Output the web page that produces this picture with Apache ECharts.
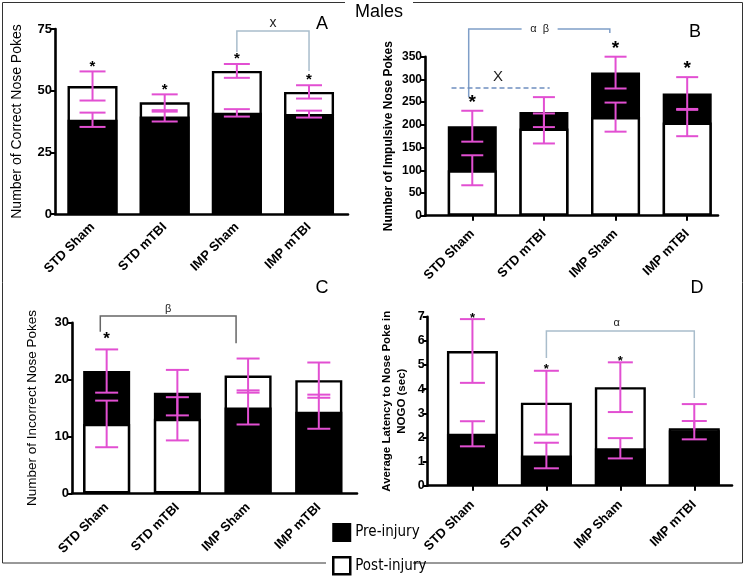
<!DOCTYPE html>
<html>
<head>
<meta charset="utf-8">
<script src="https://cdn.jsdelivr.net/npm/echarts@6/dist/echarts.min.js"></script>
<style>
html,body{margin:0;padding:0;background:#fff;}
#chart{width:747px;height:579px;}
</style>
</head>
<body>
<div id="chart"></div>
<script>
// ---------- DATA ----------
const categories = ['STD Sham', 'STD mTBI', 'IMP Sham', 'IMP mTBI'];

// Panel A: Number of Correct Nose Pokes
const preA = [38.2, 39.5, 41.0, 40.5];
const preErrA = [2.9, 2.0, 1.5, 1.4];
const postA = [51.9, 45.3, 58.0, 49.5];
const postErrA = [5.9, 3.2, 2.8, 2.7];
const starsA = [1, 1, 1, 1];

// Panel B: Number of Impulsive Nose Pokes
const preB = [197, 228, 315, 269];
const preErrB = [34, 33, 35, 36];
const postB = [100, 192, 217, 205];
const postErrB = [33, 33, 32, 30];
const starsB = [1, 0, 1, 1];

// Panel C: Number of Incorrect Nose Pokes
const preC = [21.5, 17.7, 15.1, 14.35];
const preErrC = [3.8, 4.0, 3.0, 3.0];
const postC = [12.2, 13.1, 20.7, 19.9];
const postErrC = [4.1, 3.8, 3.0, 3.1];
const starsC = [1, 0, 0, 0];

// Panel D: Average Latency to Nose Poke in NOGO (sec)
const preD = [2.15, 1.25, 1.55, 2.3];
const preErrD = [0.52, 0.53, 0.42, 0.38];
const postD = [5.58, 3.44, 4.08, 2.38];
const postErrD = [1.32, 1.32, 1.03, 1.0];
const starsD = [1, 1, 1, 0];

const yTicksA = [0, 25, 50, 75];
const yTicksB = [0, 50, 100, 150, 200, 250, 300, 350];
const yTicksC = [0, 10, 20, 30];
const yTicksD = [0, 1, 2, 3, 4, 5, 6, 7];

// ---------- LAYOUT / STYLE ----------
const FONT = '"Liberation Sans", Arial, Helvetica, sans-serif';
const NARROW = '"Liberation Sans Narrow", "Arial Narrow", "DejaVu Sans Condensed", sans-serif';
const PINK = '#e24fd2';

const panels = [
  { pre: preA, preErr: preErrA, post: postA, postErr: postErrA, stars: starsA, ticks: yTicksA,
    grid: { left: 55, top: 29, width: 293, height: 185 }, xMin: -0.52, xMax: 3.54,
    barW: 50, capW: 26, tickFont: 13, catFont: 13, catMargin: 11, xTicks: false,
    name: 'Number of Correct Nose Pokes', nameFont: 14, nameBold: 'normal', nameGap: 29,
    starFont: 15, starDist: 5,
    brackets: [{ d: [2, 3, 74.2, 65.7, 58], color: '#a9bdcc' }],
    texts: [{ d: [2.5, 77.3], t: 'x', size: 14, color: '#222' }] },
  { pre: preB, preErr: preErrB, post: postB, postErr: postErrB, stars: starsB, ticks: yTicksB,
    grid: { left: 425, top: 56.7, width: 293, height: 159 }, xMin: -0.66, xMax: 3.43,
    barW: 49, capW: 22, tickFont: 12, catFont: 13, catMargin: 16, xTicks: true,
    name: 'Number of Impulsive Nose Pokes', nameFont: 12, nameBold: 'bold', nameGap: 29,
    starFont: 19, starDist: 8,
    brackets: [{ d: [-0.05, 1.92, 411, 261, 402], color: '#7f9ec8' }],
    dashed: [{ d: [-0.29, 1.08, 281], color: '#6f8fc0' }],
    texts: [{ d: [0.94, 411], t: 'α  β', size: 11, color: '#222', bg: true },
            { d: [0.36, 305], t: 'X', size: 15, color: '#222' }] },
  { pre: preC, preErr: preErrC, post: postC, postErr: postErrC, stars: starsC, ticks: yTicksC,
    grid: { left: 72, top: 322.7, width: 285, height: 170.6 }, xMin: -0.49, xMax: 3.54,
    barW: 47, capW: 23, tickFont: 13, catFont: 13, catMargin: 12, xTicks: false,
    name: 'Number of Incorrect Nose Pokes', nameFont: 13.5, nameBold: 'normal', nameGap: 31,
    starFont: 17, starDist: 10,
    brackets: [{ d: [-0.09, 1.83, 31.2, 28.4, 26.4], color: '#666' }],
    texts: [{ d: [0.87, 32.4], t: 'β', size: 11, color: '#222' }] },
  { pre: preD, preErr: preErrD, post: postD, postErr: postErrD, stars: starsD, ticks: yTicksD,
    grid: { left: 427.7, top: 316.7, width: 304.3, height: 169 }, xMin: -0.605, xMax: 3.51,
    barW: 51, capW: 25, tickFont: 12.5, catFont: 13, catMargin: 17, xTicks: true,
    name: 'Average Latency to Nose Poke in\nNOGO (sec)', nameFont: 11.5, nameBold: 'bold', nameGap: 19,
    starFont: 13, starDist: 1,
    brackets: [{ d: [1, 3, 6.41, 5.29, 3.63], color: '#a9bdcc' }],
    texts: [{ d: [1.95, 6.75], t: 'α', size: 11, color: '#222' }] }
];

// ---------- BUILD ----------
const grids = [], xAxes = [], yAxes = [], series = [];

function errRender(capW) {
  return function (params, api) {
    const x = api.value(0), m = api.value(1), e = api.value(2);
    const top = api.coord([x, m + e]);
    const bot = api.coord([x, m - e]);
    const h = capW / 2;
    const st = { stroke: PINK, lineWidth: 2 };
    return {
      type: 'group',
      children: [
        { type: 'line', shape: { x1: top[0], y1: top[1], x2: bot[0], y2: bot[1] }, style: st },
        { type: 'line', shape: { x1: top[0] - h, y1: top[1], x2: top[0] + h, y2: top[1] }, style: st },
        { type: 'line', shape: { x1: bot[0] - h, y1: bot[1], x2: bot[0] + h, y2: bot[1] }, style: st }
      ]
    };
  };
}

panels.forEach(function (p, k) {
  grids.push(Object.assign({ containLabel: false }, p.grid));
  const yMax = p.ticks[p.ticks.length - 1];
  const yInt = p.ticks[1] - p.ticks[0];
  xAxes.push({
    type: 'value', gridIndex: k, min: p.xMin, max: p.xMax,
    axisLine: { show: true, onZero: false, lineStyle: { color: '#000', width: 2.6 } },
    axisTick: { show: p.xTicks, customValues: [0, 1, 2, 3], length: 5, lineStyle: { color: '#000', width: 2 } },
    splitLine: { show: false },
    axisLabel: {
      customValues: [0, 1, 2, 3], rotate: 45, margin: p.catMargin,
      formatter: function (v) { return categories[Math.round(v)]; },
      fontFamily: FONT, fontWeight: 'bold', fontSize: p.catFont, color: '#000'
    }
  });
  yAxes.push({
    type: 'value', gridIndex: k, min: 0, max: yMax, interval: yInt,
    name: p.name, nameLocation: 'middle', nameGap: p.nameGap,
    nameTextStyle: { fontFamily: FONT, fontSize: p.nameFont, fontWeight: p.nameBold, color: '#000', lineHeight: p.nameFont + 3 },
    axisLine: { show: true, onZero: false, lineStyle: { color: '#000', width: 2.6 } },
    axisTick: { show: true, length: 5, lineStyle: { color: '#000', width: 2 } },
    splitLine: { show: false },
    axisLabel: { fontFamily: FONT, fontWeight: 'bold', fontSize: p.tickFont, color: '#000', margin: 3 }
  });

  const preBack = [], postBack = [], preFront = [], postFront = [], backErr = [], frontErr = [], starPts = [];
  categories.forEach(function (c, i) {
    if (p.pre[i] >= p.post[i]) {
      preBack.push([i, p.pre[i]]); postFront.push([i, p.post[i]]);
      backErr.push([i, p.pre[i], p.preErr[i]]); frontErr.push([i, p.post[i], p.postErr[i]]);
    } else {
      postBack.push([i, p.post[i]]); preFront.push([i, p.pre[i]]);
      backErr.push([i, p.post[i], p.postErr[i]]); frontErr.push([i, p.pre[i], p.preErr[i]]);
    }
    if (p.stars[i]) starPts.push([i, Math.max(p.pre[i] + p.preErr[i], p.post[i] + p.postErr[i])]);
  });

  function bar(name, data, fill, z) {
    return {
      name: name, type: 'bar', xAxisIndex: k, yAxisIndex: k, data: data,
      barWidth: p.barW, barGap: '-100%', z: z, animation: false,
      itemStyle: { color: fill, borderColor: '#000', borderWidth: 2.4 },
      emphasis: { disabled: true }
    };
  }
  series.push(bar('Pre-injury', preBack, '#000', 2));
  series.push(bar('Post-injury', postBack, '#fff', 2));
  series.push({ type: 'custom', name: 'errBack' + k, xAxisIndex: k, yAxisIndex: k, z: 3,
    renderItem: errRender(p.capW), data: backErr, encode: { x: 0, y: 1 }, animation: false, silent: true });
  series.push(bar('Pre-injury', preFront, '#000', 4));
  series.push(bar('Post-injury', postFront, '#fff', 4));
  series.push({ type: 'custom', name: 'errFront' + k, xAxisIndex: k, yAxisIndex: k, z: 5,
    renderItem: errRender(p.capW), data: frontErr, encode: { x: 0, y: 1 }, animation: false, silent: true });

  // significance stars
  series.push({ type: 'custom', name: 'stars' + k, xAxisIndex: k, yAxisIndex: k, z: 6, clip: false,
    data: starPts, encode: { x: 0, y: 1 }, animation: false, silent: true,
    renderItem: function (params, api) {
      const pt = api.coord([api.value(0), api.value(1)]);
      return { type: 'text', x: pt[0], y: pt[1] - p.starDist,
        style: { text: '*', fill: '#000', font: 'bold ' + p.starFont + 'px ' + FONT, textAlign: 'center', textVerticalAlign: 'middle' } };
    } });

  // brackets
  series.push({ type: 'custom', name: 'brackets' + k, xAxisIndex: k, yAxisIndex: k, z: 6, clip: false,
    data: p.brackets.map(function (b) { return b.d; }), encode: { x: [0, 1], y: [2, 3, 4] }, animation: false, silent: true,
    renderItem: function (params, api) {
      const b = p.brackets[params.dataIndex];
      const x1 = api.value(0), x2 = api.value(1), t = api.value(2), l = api.value(3), r = api.value(4);
      const pts = [api.coord([x1, l]), api.coord([x1, t]), api.coord([x2, t]), api.coord([x2, r])];
      return { type: 'polyline', shape: { points: pts }, style: { stroke: b.color, lineWidth: 1.5, fill: null } };
    } });
  if (p.dashed) {
    series.push({ type: 'custom', name: 'dashed' + k, xAxisIndex: k, yAxisIndex: k, z: 6, clip: false,
      data: p.dashed.map(function (b) { return b.d; }), encode: { x: [0, 1], y: 2 }, animation: false, silent: true,
      renderItem: function (params, api) {
        const b = p.dashed[params.dataIndex];
        const a = api.coord([api.value(0), api.value(2)]), c = api.coord([api.value(1), api.value(2)]);
        return { type: 'line', shape: { x1: a[0], y1: a[1], x2: c[0], y2: c[1] }, style: { stroke: b.color, lineWidth: 1.5, lineDash: [5, 3] } };
      } });
  }
  series.push({ type: 'custom', name: 'texts' + k, xAxisIndex: k, yAxisIndex: k, z: 7, clip: false,
    data: p.texts.map(function (b) { return b.d; }), encode: { x: 0, y: 1 }, animation: false, silent: true,
    renderItem: function (params, api) {
      const b = p.texts[params.dataIndex];
      const pt = api.coord([api.value(0), api.value(1)]);
      const txt = { type: 'text', x: pt[0], y: pt[1],
        style: { text: b.t, fill: b.color, font: b.size + 'px ' + FONT, textAlign: 'center', textVerticalAlign: 'middle' } };
      if (b.bg) {
        return { type: 'group', children: [
          { type: 'rect', shape: { x: pt[0] - 18, y: pt[1] - 4, width: 36, height: 8 }, style: { fill: '#fff' } },
          txt ] };
      }
      return txt;
    } });
});

const chart = echarts.init(document.getElementById('chart'), null, { renderer: 'canvas' });
chart.setOption({
  backgroundColor: '#fff',
  animation: false,
  grid: grids,
  xAxis: xAxes,
  yAxis: yAxes,
  series: series,
  legend: {
    orient: 'vertical', left: 332, top: 523, padding: 0, itemWidth: 17, itemHeight: 17, itemGap: 14,
    icon: 'rect', selectedMode: false,
    data: [
      { name: 'Pre-injury', itemStyle: { color: '#000', borderColor: '#000', borderWidth: 2 } },
      { name: 'Post-injury', itemStyle: { color: '#fff', borderColor: '#000', borderWidth: 2.5 } }
    ],
    textStyle: { fontFamily: NARROW, fontSize: 15, color: '#000' }
  },
  graphic: [
    { type: 'polyline', shape: { points: [[345, 2.5], [2.5, 2.5], [2.5, 563], [326, 563]] }, style: { stroke: '#333', lineWidth: 1, fill: null } },
    { type: 'polyline', shape: { points: [[413, 2.5], [742.5, 2.5], [742.5, 563], [413, 563]] }, style: { stroke: '#333', lineWidth: 1, fill: null } },
    { type: 'text', x: 379, y: 12, style: { text: 'Males', font: '18px ' + FONT, fill: '#000', textAlign: 'center', textVerticalAlign: 'middle' } },
    { type: 'text', x: 322, y: 24, style: { text: 'A', font: '18px ' + FONT, fill: '#000', textAlign: 'center', textVerticalAlign: 'middle' } },
    { type: 'text', x: 695, y: 32, style: { text: 'B', font: '18px ' + FONT, fill: '#000', textAlign: 'center', textVerticalAlign: 'middle' } },
    { type: 'text', x: 322, y: 288, style: { text: 'C', font: '18px ' + FONT, fill: '#000', textAlign: 'center', textVerticalAlign: 'middle' } },
    { type: 'text', x: 697, y: 288, style: { text: 'D', font: '18px ' + FONT, fill: '#000', textAlign: 'center', textVerticalAlign: 'middle' } }
  ]
});
</script>
</body>
</html>
